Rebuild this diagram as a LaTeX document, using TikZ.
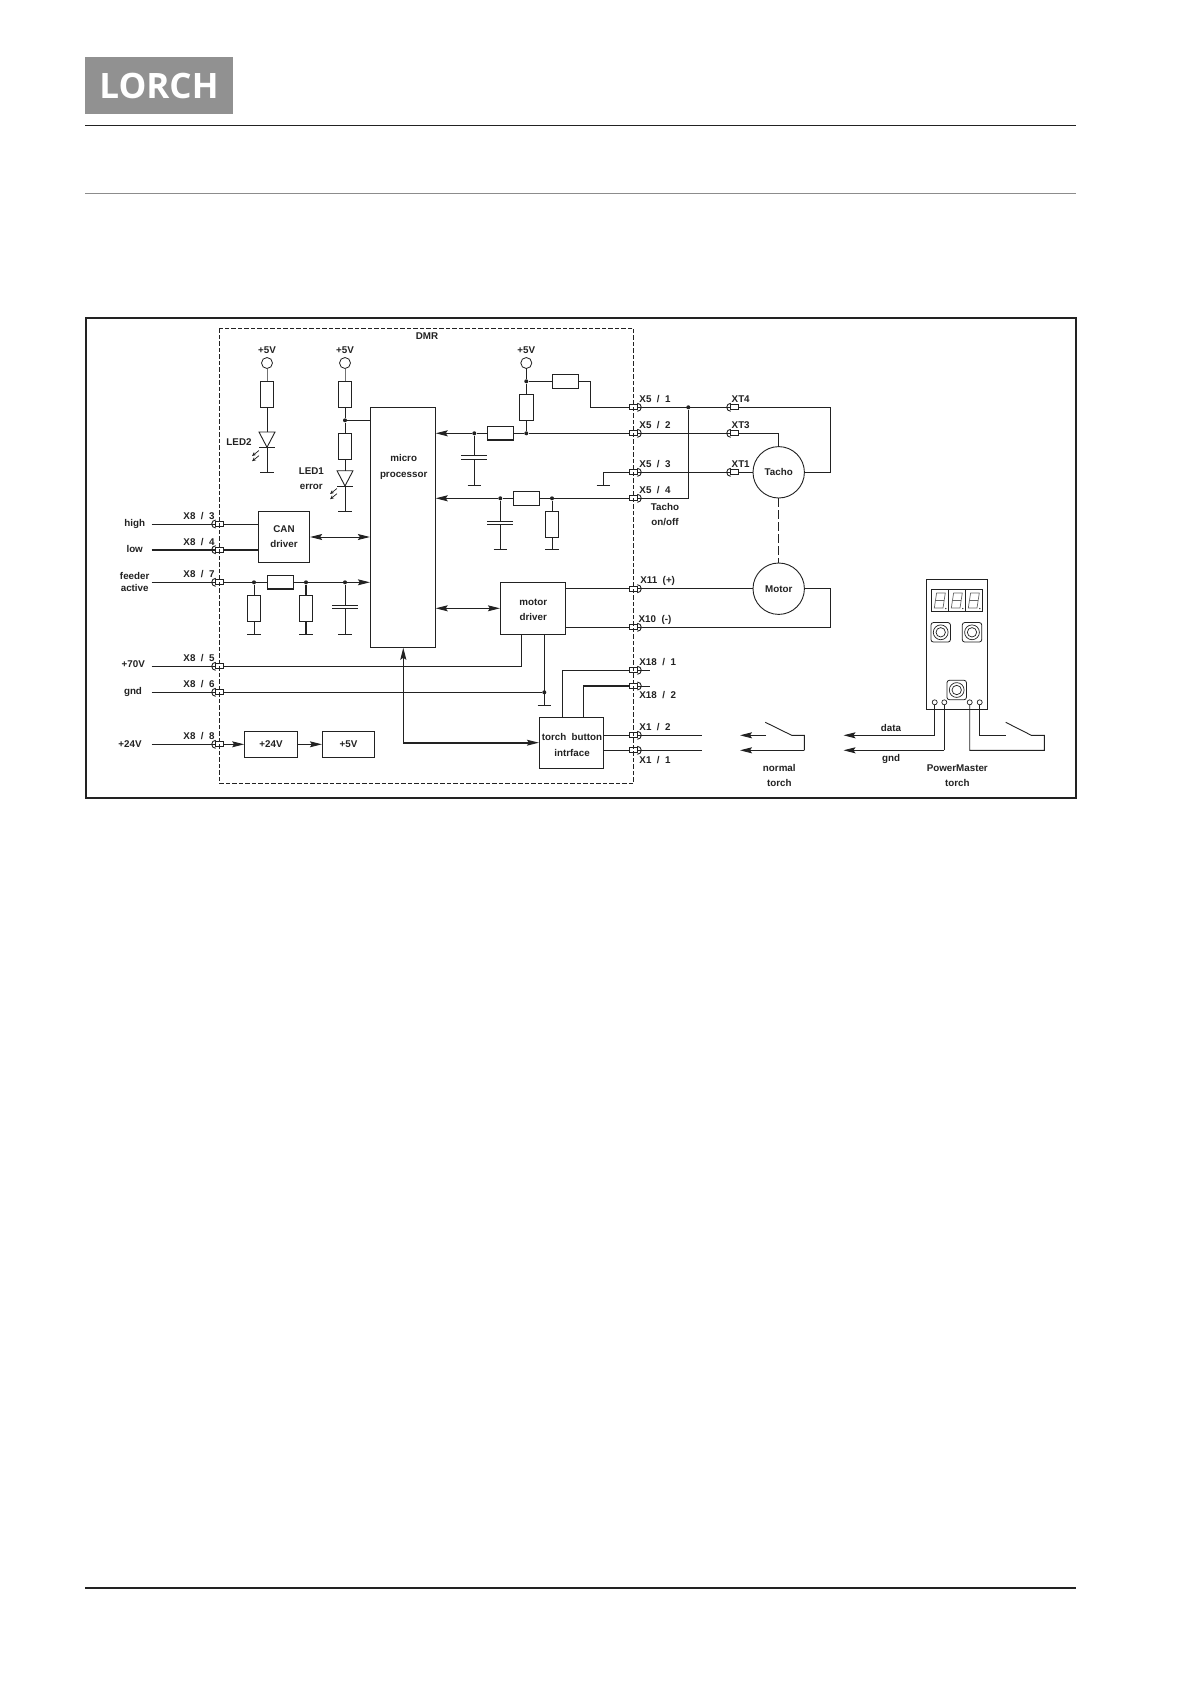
\documentclass[tikz,border=0pt]{standalone}
\usepackage{fontspec}
\setmainfont{Liberation Sans}
\newfontfamily\logofont{Open Sans}
\usetikzlibrary{arrows.meta,calc}
\definecolor{ink}{HTML}{222222}
\tikzset{
  wire/.style={draw=ink,line width=0.9pt},
  thickwire/.style={draw=ink,line width=1.9pt},
  boxn/.style={draw=ink,line width=0.9pt,rectangle,inner sep=0pt,align=center,font=\bfseries\fontsize{9.8}{15.5}\selectfont,text=ink},
  lbl/.style={inner sep=0pt,align=center,font=\bfseries\fontsize{9.8}{12}\selectfont,text=ink},
  vres/.style={draw=ink,line width=0.9pt,rectangle,inner sep=0pt,minimum width=13.3pt,minimum height=26.2pt},
  hres/.style={draw=ink,line width=0.9pt,rectangle,inner sep=0pt,minimum width=26.2pt,minimum height=13.3pt},
  jdot/.style={circle,fill=ink,inner sep=0pt,minimum size=4pt},
  rail/.style={draw=ink,line width=0.8pt,circle,inner sep=0pt,minimum size=11pt},
  pinrect/.style={draw=ink,line width=0.7pt,rectangle,inner sep=0pt,minimum width=8pt,minimum height=5pt},
  term/.style={draw=ink,line width=0.7pt,circle,fill=white,inner sep=0pt,minimum size=5pt},
  arr/.style={-{Stealth[length=12pt,width=6pt,inset=2pt]}},
  biarr/.style={{Stealth[length=12pt,width=6pt,inset=2pt]}-{Stealth[length=12pt,width=6pt,inset=2pt]}},
  circn/.style={draw=ink,line width=0.9pt,circle,inner sep=0pt,minimum size=51.4pt,font=\bfseries\fontsize{9.8}{12}\selectfont,text=ink},
  knob/.style={draw=ink,line width=0.8pt,rectangle,rounded corners=2.5pt,inner sep=0pt,minimum size=19.5pt},
}
% left pin: name, y
\newcommand{\pinL}[2]{\node[pinrect] (#1) at (219.7,#2) {};
  \draw[wire] (215.7,#2-4) arc (90:270:4pt);}
% right pin: name, y
\newcommand{\pinR}[2]{\node[pinrect] (#1) at (633.3,#2) {};
  \draw[wire] (637.3,#2-4) arc (90:-90:4pt);}
% torch-side pin: name, y
\newcommand{\pinT}[2]{\node[pinrect] (#1) at (734.7,#2) {};
  \draw[wire] (730.7,#2-4) arc (90:270:4pt);}
% ground bar: centre
\newcommand{\gndbar}[1]{\draw[wire] ($(#1)+(-6.7,0)$) -- ($(#1)+(6.7,0)$);}
% capacitor: x, y of the upper plate, gap
\newcommand{\capplates}[2]{\draw[wire] (#1-13,#2) -- (#1+13,#2) (#1-13,#2+3.6) -- (#1+13,#2+3.6);}
% diode: x, y top
\newcommand{\diode}[2]{\draw[wire] (#1-8,#2) -- (#1+8,#2) -- (#1,#2+15.3) -- cycle;
  \draw[wire] (#1-8,#2+15.3) -- (#1+8,#2+15.3);}
% light arrows: x, y
\newcommand{\ledrays}[2]{\foreach \dy in {0,5.2}{\draw[draw=ink,line width=0.7pt,-{Stealth[length=4pt,width=3.5pt]}] (#1+3.5,#2-5.5+\dy) -- (#1-3.5,#2-0+\dy);}}
% seven segment digit: left x
\newcommand{\digit}[1]{
  \draw[draw=black!60,line width=0.7pt] (#1+3,608) -- (#1+5.3,593) -- (#1+14,593) -- (#1+11.7,608) -- cycle;
  \draw[draw=black!60,line width=0.7pt] (#1+4.1,600.4) -- (#1+12.8,600.4);
  \fill[ink] (#1+14.5,608.6) circle (0.7);}
\newcommand{\knobat}[3]{\node[knob] (#1) at (#2,#3) {};
  \draw[draw=ink,line width=0.7pt] (#1.center) circle (7.4) (#1.center) circle (4.7);}
\begin{document}
\begin{tikzpicture}[x=1pt,y=-1pt]
\useasboundingbox (0,0) rectangle (1191,1684);
\fill[white] (0,0) rectangle (1191,1684);
% page furniture
\node[rectangle,fill=black!43,minimum width=148pt,minimum height=57pt,inner sep=0pt,
  font=\logofont\bfseries\fontsize{35}{35}\selectfont,text=white] (logo) at (159,85.5) {LORCH};
\coordinate (h1a) at (85,125); \coordinate (h1b) at (1076,125);
\coordinate (h2a) at (85,193.5); \coordinate (h2b) at (1076,193.5);
\coordinate (h3a) at (85,1588); \coordinate (h3b) at (1076,1588);
\draw[draw=ink,line width=1pt] (h1a) -- (h1b);
\draw[draw=black!45,line width=1pt] (h2a) -- (h2b);
\draw[draw=ink,line width=1.4pt] (h3a) -- (h3b);
% frames
\draw[draw=ink,line width=1.6pt] (86,318) rectangle (1076,798);
\draw[draw=ink,line width=0.7pt,dash pattern=on 4.5pt off 2pt] (219.3,328.3) rectangle (633.7,783.3);
\node[lbl] (dmr) at (427,336) {DMR};
% blocks
\node[boxn,minimum width=65pt,minimum height=240pt] (micro) at (402.8,527.3) {};
\node[lbl,font=\bfseries\fontsize{9.8}{15.7}\selectfont] (microt) at (403.7,467) {micro\\processor};
\node[boxn,minimum width=51.4pt,minimum height=51pt] (can) at (284,536.8) {CAN\\driver};
\node[boxn,minimum width=52.6pt,minimum height=26pt,line width=1.2pt] (b24) at (271,744.3) {+24V};
\node[boxn,minimum width=52.4pt,minimum height=26pt] (b5) at (348.5,744.3) {+5V};
\node[minimum width=65pt,minimum height=52pt,boxn] (mdrv) at (532.8,608.3) {};
\node[lbl,font=\bfseries\fontsize{9.8}{15.5}\selectfont] (mdrvt) at (533.3,610) {motor\\driver};
\node[minimum width=64.4pt,minimum height=51.4pt,boxn] (torchb) at (571.5,743) {};
\node[lbl,font=\bfseries\fontsize{9.8}{15.5}\selectfont] (torcht) at (572,745) {torch\ \ button\\intrface};
\node[circn] (tacho) at (778.7,472.3) {Tacho};
\node[circn] (motor) at (778.7,588.7) {Motor};
% left pins
\pinL{p83}{524} \pinL{p84}{549.7} \pinL{p87}{582.3} \pinL{p85}{666.3} \pinL{p86}{692.3} \pinL{p88}{744.3}
\node[lbl] (l83) at (199,516) {X8\ \ /\ \ 3};
\node[lbl] (l84) at (199,541.7) {X8\ \ /\ \ 4};
\node[lbl] (l87) at (199,574.3) {X8\ \ /\ \ 7};
\node[lbl] (l85) at (199,658.3) {X8\ \ /\ \ 5};
\node[lbl] (l86) at (199,684) {X8\ \ /\ \ 6};
\node[lbl] (l88) at (199,735.7) {X8\ \ /\ \ 8};
\node[lbl] (thigh) at (134.7,524) {high};
\node[lbl] (tlow) at (134.7,549) {low};
\node[lbl] (tfeed) at (134.7,582) {feeder\\active};
\node[lbl] (t70) at (133.3,664) {+70V};
\node[lbl] (tgnd) at (133,691.5) {gnd};
\node[lbl] (t24) at (130,744) {+24V};
\coordinate (f83) at (151.7,524); \coordinate (f84) at (151.7,549.7); \coordinate (f87) at (151.7,582.3);
\coordinate (f85) at (151.7,666.3); \coordinate (f86) at (151.7,692.3); \coordinate (f88) at (151.7,744.3);
\draw[wire] (f83) -- (p83.west) (p83.east) -- (p83.east -| can.west);
\draw[thickwire] (f84) -- (p84.west) (p84.east) -- (p84.east -| can.west);
\draw[wire] (f87) -- (p87.west);
\draw[wire] (f85) -- (p85.west);
\draw[wire] (f86) -- (p86.west);
\draw[wire] (f88) -- (p88.west);
\draw[wire,arr] (p88.east) -- (b24.west);
\draw[wire,arr] (b24.east) -- (b5.west);
\draw[wire,biarr] (can.east |- 0,537) -- (micro.west |- 0,537);
% feeder input network
\node[hres,line width=1.2pt] (rf) at (280.3,582.3) {};
\node[jdot] (jf1) at (254,582.3) {};
\node[jdot] (jf2) at (306,582.3) {};
\node[jdot] (jf3) at (345,582.3) {};
\node[vres] (rf1) at (254,608.3) {};
\node[vres] (rf2) at (306,608.3) {};
\coordinate (gf1) at (254,634.3); \coordinate (gf2) at (306,634.3); \coordinate (gf3) at (345,634.3);
\draw[wire] (p87.east) -- (rf.west) (rf.east) -- (jf3);
\draw[wire,arr] (jf3) -- (micro.west |- jf3);
\draw[wire] (jf1) -- (rf1.north) (rf1.south) -- (gf1);
\draw[wire,line width=1.4pt] (jf2) -- (rf2.north) (rf2.south) -- (gf2);
\draw[wire] (jf3) -- (345,605.3) (345,608.9) -- (gf3);
\capplates{345}{605.3}
\gndbar{gf1} \gndbar{gf2} \gndbar{gf3}
% LED2
\node[rail] (v1) at (267,363) {};
\node[lbl] (tv1) at (267,350) {+5V};
\node[vres] (r1) at (267,394.2) {};
\coordinate (g1) at (267,472.3);
\draw[draw=black!55,line width=0.9pt] (v1) -- (r1.north);
\draw[wire] (r1.south) -- (267,432) (267,447.3) -- (g1);
\diode{267}{432}
\gndbar{g1}
\ledrays{255.5}{456}
\node[lbl] (tled2) at (239,442) {LED2};
% LED1
\node[rail] (v2) at (345,363) {};
\node[lbl] (tv2) at (345,350) {+5V};
\node[vres] (r2) at (345,394.2) {};
\node[jdot] (j2) at (345,420.3) {};
\node[vres] (r3) at (345,446.3) {};
\coordinate (g2) at (345,511.3);
\draw[draw=black!55,line width=0.9pt] (v2) -- (r2.north);
\draw[wire] (r2.south) -- (j2) -- (r3.north);
\draw[wire] (j2) -- (micro.west |- j2);
\draw[wire] (r3.south) -- (345,470.7) (345,486) -- (g2);
\diode{345}{470.7}
\gndbar{g2}
\ledrays{333.5}{494}
\node[lbl,font=\bfseries\fontsize{9.8}{15.5}\selectfont] (tled1) at (311.3,478.5) {LED1\\error};
% right pins
\pinR{p51}{407.3} \pinR{p52}{433.3} \pinR{p53}{472.3} \pinR{p54}{498.3}
\pinR{p11}{588.7} \pinR{p10}{627.3} \pinR{p181}{670.3} \pinR{p182}{686} \pinR{p12}{735.3} \pinR{p111}{750.3}
\node[lbl] (l51) at (655,399.3) {X5\ \ /\ \ 1};
\node[lbl] (l52) at (655,425) {X5\ \ /\ \ 2};
\node[lbl] (l53) at (655,464) {X5\ \ /\ \ 3};
\node[lbl] (l54) at (655,490) {X5\ \ /\ \ 4};
\node[lbl] (l11) at (657.7,580.7) {X11\ \ (+)};
\node[lbl] (l10) at (655,620) {X10\ \ (-)};
\node[lbl] (l181) at (657.7,662) {X18\ \ /\ \ 1};
\node[lbl] (l182) at (657.7,694.7) {X18\ \ /\ \ 2};
\node[lbl] (l12) at (655,726.7) {X1\ \ /\ \ 2};
\node[lbl] (l111) at (655,759.7) {X1\ \ /\ \ 1};
\node[lbl,font=\bfseries\fontsize{9.8}{15.5}\selectfont] (ttacho) at (665,514.7) {Tacho\\on/off};
% top right network
\node[rail] (v3) at (526.3,363) {};
\node[lbl] (tv3) at (526.3,350) {+5V};
\node[jdot] (j3a) at (526.3,381.3) {};
\node[vres] (r4) at (526.3,407.3) {};
\node[jdot] (j3b) at (526.3,433.3) {};
\node[hres] (r5) at (565.5,381.3) {};
\coordinate (k1) at (590.3,381.3);
\coordinate (k2) at (590.3,407.3);
\draw[wire] (v3) -- (j3a) -- (r4.north) (r4.south) -- (j3b);
\draw[wire] (j3a) -- (r5.west) (r5.east) -- (k1) -- (k2) -- (p51.west);
\node[hres,line width=1.2pt] (r6) at (500.3,433.3) {};
\node[jdot] (j4) at (474.3,433.3) {};
\draw[wire] (p52.west) -- (j3b) -- (r6.east) (r6.west) -- (j4);
\draw[wire,arr] (j4) -- (micro.east |- j4);
\coordinate (g4) at (474.3,485.3);
\draw[wire] (j4) -- (474.3,455.9) (474.3,459.5) -- (g4);
\capplates{474.3}{455.9}
\gndbar{g4}
% X5/3 ground
\coordinate (k3) at (603.3,472.3);
\coordinate (g5) at (603.3,485.3);
\draw[wire] (p53.west) -- (k3) -- (g5);
\gndbar{g5}
% X5/4 network
\node[hres] (r7) at (526.5,498.3) {};
\node[jdot] (j6) at (500.3,498.3) {};
\node[jdot] (j7) at (552,498.3) {};
\node[vres] (r8) at (552,524.5) {};
\coordinate (g6) at (500.3,549.7);
\coordinate (g7) at (552,549.7);
\draw[wire] (p54.west) -- (j7) -- (r7.east) (r7.west) -- (j6);
\draw[wire,arr] (j6) -- (micro.east |- j6);
\draw[wire] (j7) -- (r8.north) (r8.south) -- (g7);
\draw[wire] (j6) -- (500.3,521) (500.3,524.6) -- (g6);
\capplates{500.3}{521}
\draw[wire,line width=1.4pt] (493.6,549.7) -- (507,549.7);
\draw[wire,line width=1.4pt] (545.3,549.7) -- (558.7,549.7);
% tacho connections
\pinT{xt4}{407.3} \pinT{xt3}{433.3} \pinT{xt1}{472.3}
\node[lbl] (lxt4) at (740.7,399) {XT4};
\node[lbl] (lxt3) at (740.7,425) {XT3};
\node[lbl] (lxt1) at (740.7,464) {XT1};
\node[jdot] (j8) at (688.3,407.3) {};
\coordinate (k4) at (688.3,498.3);
\coordinate (k5) at (830.7,407.3);
\coordinate (k6) at (830.7,472.3);
\coordinate (k7) at (778.7,433.3);
\draw[wire] (p51.east) -- (xt4.west);
\draw[wire] (p52.east) -- (xt3.west);
\draw[wire] (p53.east) -- (xt1.west);
\draw[wire] (p54.east) -- (k4) -- (j8);
\draw[wire] (xt4.east) -- (k5) -- (k6) -- (tacho.east);
\draw[wire] (xt3.east) -- (k7) -- (tacho.north);
\draw[wire] (xt1.east) -- (tacho.west);
\draw[wire,dash pattern=on 9pt off 3pt] (tacho.south) -- (motor.north);
% motor driver
\coordinate (k8) at (830.7,588.7);
\coordinate (k9) at (830.7,627.3);
\draw[wire] (mdrv.east |- p11) -- (p11.west) (p11.east) -- (motor.west);
\draw[wire] (motor.east) -- (k8) -- (k9) -- (p10.east);
\draw[wire] (mdrv.east |- p10) -- (p10.west);
\draw[wire,biarr] (micro.east |- mdrv.west) -- (mdrv.west);
\coordinate (k10) at (521.7,666.3);
\draw[wire] (p85.east) -- (k10) -- (k10 |- mdrv.south);
\node[jdot] (j9) at (544.3,692.3) {};
\coordinate (g9) at (544.3,705.3);
\draw[wire] (p86.east) -- (j9);
\draw[wire] (j9 |- mdrv.south) -- (g9);
\gndbar{g9}
% torch interface
\coordinate (k11) at (562.3,670.3);
\coordinate (k12) at (583.3,686);
\draw[wire] (p181.west) -- (k11) -- (k11 |- torchb.north);
\draw[thickwire] (p182.west) -- (k12);
\draw[wire] (k12) -- (k12 |- torchb.north);
\coordinate (s181) at (650,670.3); \coordinate (s182) at (650,686);
\draw[wire] (p181.east) -- (s181);
\draw[wire] (p182.east) -- (s182);
\coordinate (s12) at (701.7,735.3); \coordinate (s111) at (701.7,750.3);
\draw[wire] (torchb.east |- p12) -- (p12.west) (p12.east) -- (s12);
\draw[wire] (torchb.east |- p111) -- (p111.west) (p111.east) -- (s111);
\coordinate (k13) at (403.3,742.7);
\draw[thickwire,-{Stealth[length=12pt,width=6pt,inset=2pt,line width=0pt]}] (k13) -- (torchb.west |- k13);
\draw[wire,line width=1.1pt] (k13) -- (403.3,700);
\draw[wire,line width=1.1pt,arr] (403.3,700) -- (micro.south -| 403.3,0);
% normal torch
\coordinate (a1) at (740,735.3); \coordinate (a2) at (740,750.3);
\coordinate (s1) at (766,735.3); \coordinate (s2) at (765.3,722.3);
\coordinate (s3) at (791.7,735.3); \coordinate (s4) at (804.3,735.3); \coordinate (s5) at (804.3,750.3);
\draw[wire,arr] (s1) -- (a1);
\draw[wire] (s2) -- (s3) -- (s4) -- (s5);
\draw[wire,arr] (s5) -- (a2);
\node[lbl,font=\bfseries\fontsize{9.8}{15}\selectfont] (tnorm) at (779.3,775.2) {normal\\torch};
% PowerMaster torch
\node[draw=ink,line width=0.9pt,rectangle,inner sep=0pt,minimum width=61.4pt,minimum height=130pt] (pm) at (957,644.3) {};
\node[draw=ink,line width=1pt,rectangle,inner sep=0pt,minimum width=17pt,minimum height=21.6pt] (d1) at (939.8,600.5) {};
\node[draw=ink,line width=1pt,rectangle,inner sep=0pt,minimum width=17pt,minimum height=21.6pt] (d2) at (956.8,600.5) {};
\node[draw=ink,line width=1pt,rectangle,inner sep=0pt,minimum width=17pt,minimum height=21.6pt] (d3) at (973.8,600.5) {};
\digit{931.3}\digit{948.3}\digit{965.3}
\knobat{kb1}{940.7}{632.3}
\knobat{kb2}{972}{632.3}
\knobat{kb3}{956.7}{690}
\node[term] (t1) at (934.7,702.3) {};
\node[term] (t2) at (944.3,702.3) {};
\node[term] (t3) at (969.7,702.3) {};
\node[term] (t4) at (979.7,702.3) {};
\coordinate (a3) at (843.5,735.3); \coordinate (a4) at (843.5,750.3);
\coordinate (c1) at (934.7,735.3); \coordinate (c2) at (944.3,750.3);
\coordinate (c3) at (969.7,750.3); \coordinate (c4) at (979.7,735.3);
\coordinate (c5) at (1005.7,735.3); \coordinate (c6) at (1005.7,722.3);
\coordinate (c7) at (1031.3,735.3); \coordinate (c8) at (1044.3,735.3); \coordinate (c9) at (1044.3,750.3);
\draw[wire] (t1) -- (c1); \draw[wire,arr] (c1) -- (a3);
\draw[wire] (t2) -- (c2); \draw[wire,arr] (c2) -- (a4);
\draw[wire] (t4) -- (c4) -- (c5);
\draw[wire] (c6) -- (c7) -- (c8) -- (c9) -- (c3) -- (t3);
\node[lbl] (tdata) at (891,728.3) {data};
\node[lbl] (tgnd2) at (891,759) {gnd};
\node[lbl,font=\bfseries\fontsize{9.8}{15}\selectfont] (tpm) at (957.3,775.2) {PowerMaster\\torch};
\end{tikzpicture}
\end{document}
